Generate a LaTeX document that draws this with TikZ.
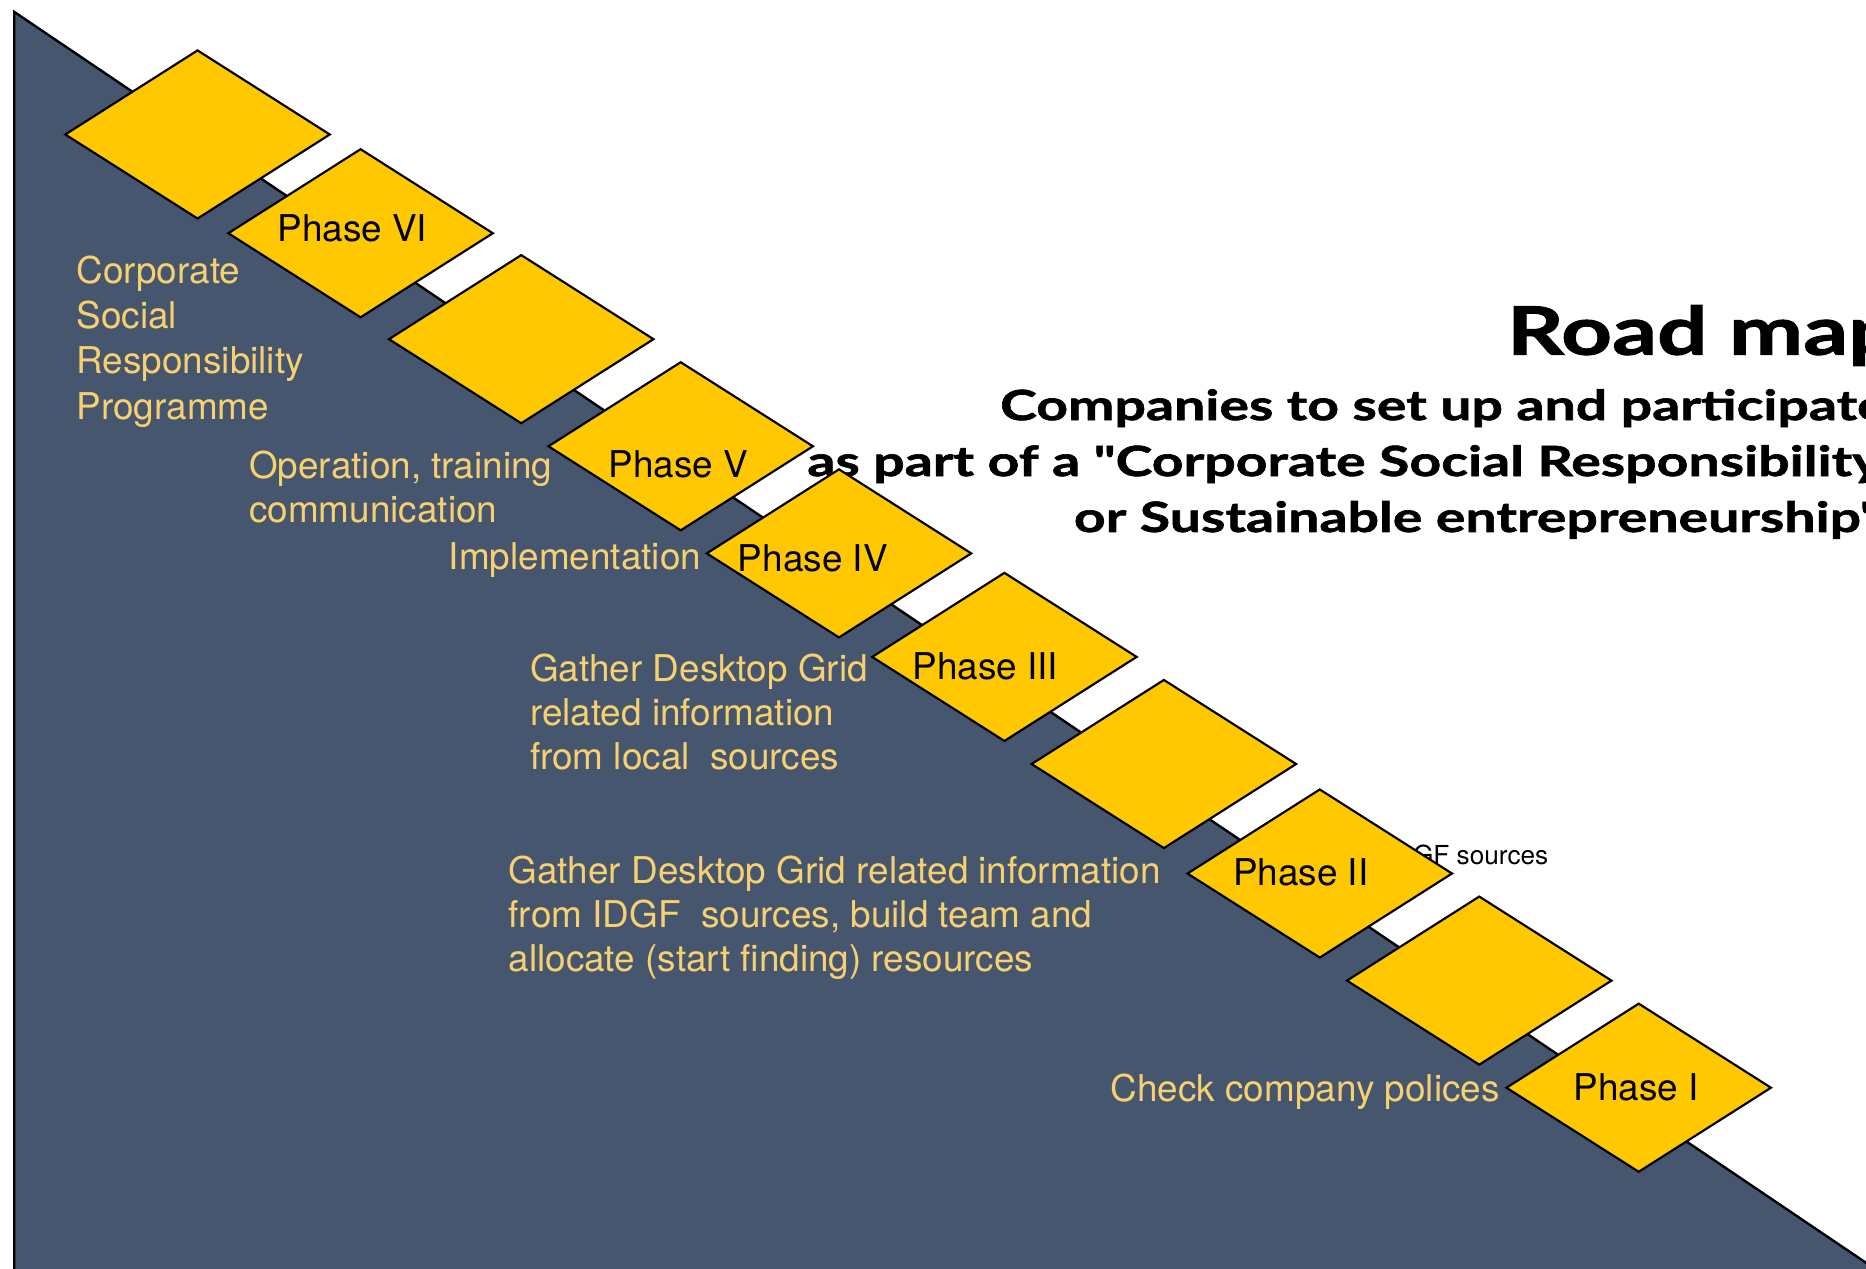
\documentclass[tikz,border=0pt]{standalone}
\usepackage{fontspec}
\newfontfamily\helv{TeX Gyre Heros} % подписи
\newfontfamily\gill{Lato}[FakeStretch=1.33, BoldFeatures={FakeBold=1.5}] % заголовок, широкий
\usetikzlibrary{shapes.geometric,positioning}
\definecolor{slate}{HTML}{45566E}
\definecolor{gold}{HTML}{FFC800}
\definecolor{sand}{HTML}{F7D070}
\begin{document}
\begin{tikzpicture}[x=0.5pt,y=-0.5pt] % координаты в пикселях, y вниз
\tikzstyle{stone} = [diamond, draw=black, line width=0.9pt, fill=gold, minimum width=111.5pt, minimum height=71pt, inner sep=0pt] % ромб-ступень
\tikzstyle{phase} = [font=\helv\fontsize{15.5}{18}\selectfont, text=black, inner sep=0pt] % надпись в ромбе
\tikzstyle{note} = [font=\helv\fontsize{15.5}{18.5}\selectfont, text=sand, align=left, inner sep=0pt] % пояснения слева
\tikzstyle{head} = [font=\gill\bfseries\fontsize{17.5}{24}\selectfont, anchor=base west, inner sep=0pt] % подзаголовок

\useasboundingbox (0,0) rectangle (1568,1066);
\clip (0,0) rectangle (1568,1066);

% дорога
\coordinate (top) at (12,10);
\coordinate (end) at (1600,1082.7);
\fill[slate] (top) -- (end) -- (1600,1100) -- (12,1100) -- cycle;
\draw[line width=1pt] (12,1100) -- (top) -- (end);

\node[font=\helv\fontsize{11}{13}\selectfont, anchor=west, inner sep=0pt] (src) at (1165,718) {IDGF sources};

% заголовок
\node[font=\gill\bfseries\fontsize{28}{34}\selectfont, anchor=base west, inner sep=0pt] (title) at (1266,298) {Road map};
\node[head] (sub1) at (840,353) {Companies to set up and participate};
\node[head] (sub2) at (678,400) {as part of a "Corporate Social Responsibility};
\node[head] (sub3) at (902,447) {or Sustainable entrepreneurship"};

% ступени снизу вверх
\node[stone] (s1) at (1377,914) {};
\node[stone] (s2) at (1243,824) {};
\node[stone] (s3) at (1109,734) {};
\node[stone] (s4) at (978,642) {};
\node[stone] (s5) at (844,552) {};
\node[stone] (s6) at (705,465) {};
\node[stone] (s7) at (572,375) {};
\node[stone] (s8) at (438,285) {};
\node[stone] (s9) at (303,196) {};
\node[stone] (s10) at (166,113) {};

\node[phase] (p1) at (1375,914) {Phase I};
\node[phase] (p2) at (1093,733) {Phase II};
\node[phase] (p3) at (828,560) {Phase III};
\node[phase] (p4) at (683,469) {Phase IV};
\node[phase] (p5) at (570,390) {Phase V};
\node[phase] (p6) at (296,192) {Phase VI};

% пояснения
\node[note, left=2pt of s1.west, yshift=-1.5pt] (check) {Check company polices};
\node[note, anchor=west] (idgf) at (427,771) {Gather Desktop Grid related information\\from IDGF\ \ sources, build team and\\allocate (start finding) resources};
\node[note, anchor=west] (local) at (445,598) {Gather Desktop Grid\\related information\\from local\ \ sources};
\node[note, left=1.5pt of s6.west, yshift=-3pt] (impl) {Implementation};
\node[note, anchor=west] (ops) at (209,409) {Operation, training\\communication};
\node[note, anchor=west, font=\helv\fontsize{15.5}{19}\selectfont] (csr) at (64,287) {Corporate\\Social\\Responsibility\\Programme};
\end{tikzpicture}
\end{document}
